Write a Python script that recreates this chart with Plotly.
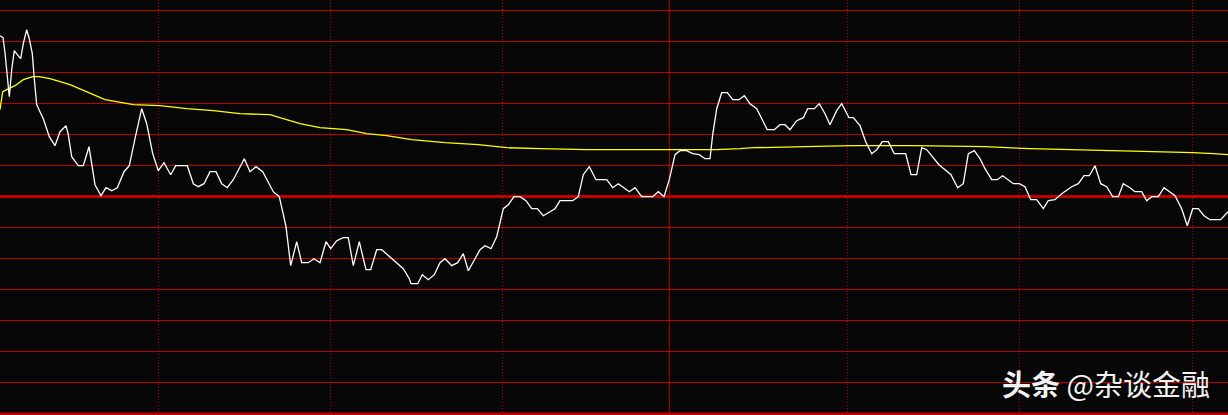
import plotly.graph_objects as go

# time index (chart ticks) and price change (%) of the intraday price line
price_t = [0, 3, 5, 7.3, 9.3, 11.7, 14.3, 17.3, 20.7, 23.3, 26.7, 29.3, 32.3, 34.3, 36.7, 40, 43.3, 49.3, 55, 60,
           66, 68.3, 71.7, 78.3, 83.3, 89, 91.7, 95, 101, 106, 111.7, 117.3, 124, 129.3, 135, 141.7, 146.7, 152.7,
           158.3, 164, 170.7, 175.7, 187.3, 193.3, 198.3, 204, 210, 216, 221.7, 227.3, 233.3, 244.3, 250, 256,
           262.7, 273.3, 279.3, 286, 290.7, 296.7, 301.7, 308.3, 314, 320, 326, 330.7, 336.7, 343.3, 348.3, 353.3,
           359.3, 366, 370.7, 376.7, 381.7, 391.7, 396.7, 403.3, 409.3, 411, 417.7, 422.3, 428.3, 434.3, 440, 445,
           451.7, 457.7, 463.3, 468.3, 475, 480, 485, 491, 496.7, 500, 503.3, 508.3, 514, 520, 526, 531.7, 537.3,
           543.3, 549.3, 555, 560, 572.7, 578.3, 583.3, 589.3, 596, 606.7, 612.7, 618.3, 629.3, 635, 641.7, 652.7,
           658.3, 664, 669.3, 675, 680, 686.7, 692.7, 699.3, 705, 710, 712.7, 716.7, 721.7, 727.3, 732.7, 739,
           744.3, 750, 756.7, 767.3, 774.3, 780, 785, 790, 796.7, 803.3, 807.7, 814.3, 819.3, 825, 830, 836.7,
           841.7, 849, 853.3, 860, 865.7, 871.7, 876.7, 882.3, 888.3, 894.3, 905.7, 911, 916.7, 921.7, 926.7, 939,
           951, 957.7, 963.3, 968.3, 974.3, 980, 985, 991.7, 997.3, 1002.7, 1008.3, 1013.3, 1019.3, 1025, 1030.7,
           1036.7, 1043.3, 1048.3, 1055, 1061.7, 1071.7, 1078.3, 1084, 1089.3, 1095, 1100.7, 1106.7, 1112.7,
           1118.3, 1123.3, 1130, 1135, 1141.7, 1146.7, 1151.7, 1158.3, 1164, 1170, 1175, 1181.7, 1187.3, 1192.7,
           1198.3, 1204, 1210, 1220.7, 1227.3, 1228]
price_pct = [1.61, 1.59, 1.44, 1.19, 1.00, 1.27, 1.46, 1.42, 1.38, 1.53, 1.67, 1.58, 1.43, 1.18, 0.92, 0.85, 0.78,
             0.60, 0.51, 0.65, 0.71, 0.62, 0.40, 0.31, 0.31, 0.50, 0.33, 0.12, 0.01, 0.09, 0.06, 0.09, 0.25, 0.31,
             0.58, 0.88, 0.73, 0.43, 0.26, 0.34, 0.22, 0.31, 0.31, 0.13, 0.10, 0.13, 0.25, 0.25, 0.13, 0.09, 0.17,
             0.38, 0.25, 0.30, 0.25, 0.05, 0.00, -0.30, -0.69, -0.45, -0.66, -0.66, -0.62, -0.66, -0.45, -0.52,
             -0.44, -0.41, -0.41, -0.69, -0.45, -0.73, -0.73, -0.53, -0.53, -0.62, -0.67, -0.72, -0.82, -0.87,
             -0.87, -0.78, -0.83, -0.78, -0.66, -0.62, -0.69, -0.66, -0.57, -0.74, -0.62, -0.53, -0.49, -0.52,
             -0.40, -0.27, -0.12, -0.08, 0.00, 0.00, -0.04, -0.12, -0.12, -0.19, -0.15, -0.12, -0.04, -0.04, 0.00,
             0.22, 0.30, 0.17, 0.17, 0.09, 0.13, 0.05, 0.09, 0.00, 0.00, 0.05, 0.00, 0.17, 0.42, 0.46, 0.46, 0.43,
             0.42, 0.38, 0.38, 0.62, 0.88, 1.04, 1.04, 0.97, 0.97, 1.01, 0.93, 0.88, 0.67, 0.67, 0.72, 0.72, 0.67,
             0.76, 0.79, 0.88, 0.88, 0.93, 0.83, 0.72, 0.86, 0.93, 0.79, 0.79, 0.71, 0.55, 0.43, 0.47, 0.55, 0.55,
             0.43, 0.43, 0.22, 0.22, 0.49, 0.47, 0.32, 0.22, 0.09, 0.13, 0.43, 0.46, 0.38, 0.28, 0.17, 0.17, 0.21,
             0.17, 0.13, 0.13, 0.10, -0.03, -0.03, -0.12, -0.04, -0.03, 0.03, 0.10, 0.13, 0.21, 0.21, 0.31, 0.13,
             0.10, 0.00, 0.00, 0.13, 0.09, 0.05, 0.05, -0.04, 0.00, 0.00, 0.09, 0.05, 0.01, -0.12, -0.29, -0.12,
             -0.12, -0.19, -0.23, -0.23, -0.15, -0.15]

# average price line
avg_t = [0, 2.7, 6.7, 15, 23.3, 32.7, 39.3, 50, 60, 70, 81.7, 91.7, 105, 116.7, 133.3, 160, 186.7, 213.3, 240,
         270, 286.7, 300, 320, 346.7, 366.7, 386.7, 411.7, 445, 478.3, 506.7, 540, 586.7, 668.3, 716.7, 740,
         753.3, 805, 851.7, 915, 985, 1030, 1070, 1116.7, 1173.3, 1193.3, 1213.3, 1228]
avg_pct = [0.87, 1.05, 1.07, 1.11, 1.17, 1.20, 1.20, 1.18, 1.15, 1.12, 1.07, 1.03, 0.97, 0.95, 0.92, 0.91, 0.88,
           0.86, 0.83, 0.82, 0.77, 0.73, 0.69, 0.67, 0.63, 0.61, 0.57, 0.54, 0.52, 0.49, 0.48, 0.47, 0.47, 0.47,
           0.48, 0.49, 0.50, 0.51, 0.51, 0.50, 0.48, 0.47, 0.46, 0.45, 0.44, 0.43, 0.42]

# grid levels (% change) and time grid positions
grid_levels = [-2.17, -1.86, -1.55, -1.24, -0.93, -0.62, -0.31, 0, 0.31, 0.62, 0.93, 1.24, 1.55, 1.86]
time_grid = [158.3, 330.3, 502.3, 847.7, 1019.5, 1192.3]
midday_t = 669.3
watermark = "<b>头条</b> @杂谈金融"

RED = "#bf0000"

fig = go.Figure()
fig.add_trace(go.Scatter(x=avg_t, y=avg_pct, mode="lines",
                         line=dict(color="#ffff00", width=1.3), hoverinfo="skip"))
fig.add_trace(go.Scatter(x=price_t, y=price_pct, mode="lines",
                         line=dict(color="#ffffff", width=1.3), hoverinfo="skip"))

fig.add_vline(x=midday_t, line=dict(color=RED, width=1), layer="below")
fig.add_hline(y=grid_levels[0], line=dict(color=RED, width=2.5), layer="below")

fig.add_annotation(x=0.987, y=0.077, xref="paper", yref="paper", xanchor="right", yanchor="middle",
                   text=watermark, showarrow=False,
                   font=dict(family="Noto Sans CJK SC", size=29, color="#f2f2f2"))

fig.update_layout(
    width=1228, height=415,
    margin=dict(l=0, r=0, t=0, b=0),
    paper_bgcolor="#070707", plot_bgcolor="#070707",
    showlegend=False,
    xaxis=dict(range=[0, 1228], tickvals=time_grid, showticklabels=False, ticks="",
               showgrid=True, gridcolor=RED, gridwidth=1, griddash="1px,2px",
               zeroline=False, showline=False, fixedrange=True),
    yaxis=dict(range=[-2.183, 1.967], tickvals=grid_levels, showticklabels=False, ticks="",
               showgrid=True, gridcolor=RED, gridwidth=1,
               zeroline=True, zerolinecolor=RED, zerolinewidth=2.5,
               showline=False, fixedrange=True),
)

fig.write_html("out.html", config={"displayModeBar": False},
               post_script="document.body.style.margin='0';document.body.style.overflow='hidden';")
